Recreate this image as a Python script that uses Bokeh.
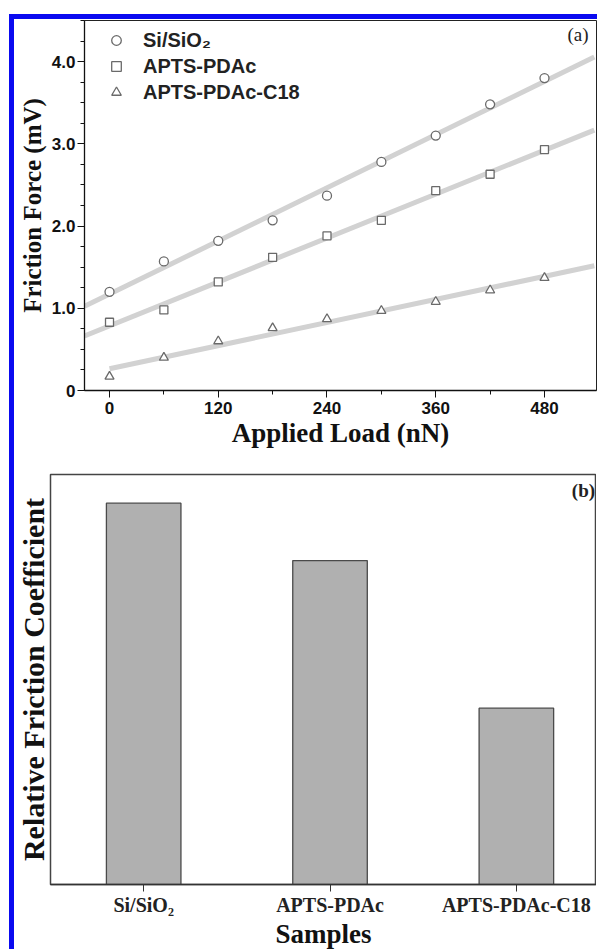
import numpy as np
from bokeh.plotting import figure
from bokeh.layouts import column, row
from bokeh.models import Range1d, FixedTicker, Legend, LegendItem, Label, Title
from bokeh.embed import file_html
from bokeh.resources import INLINE

# ---------------- data ----------------
load_nN = [0, 60, 120, 180, 240, 300, 360, 420, 480]
si_sio2 = [1.20, 1.57, 1.82, 2.07, 2.37, 2.78, 3.10, 3.48, 3.80]
apts_pdac = [0.83, 0.98, 1.32, 1.62, 1.88, 2.07, 2.43, 2.63, 2.93]
apts_pdac_c18 = [0.17, 0.40, 0.60, 0.76, 0.87, 0.97, 1.08, 1.22, 1.37]

samples = ["Si/SiO\u2082", "APTS-PDAc", "APTS-PDAc-C18"]
rel_coeff = [0.93, 0.79, 0.43]

x_ticks = [0, 120, 240, 360, 480]
x_minor = [0, 60, 120, 180, 240, 300, 360, 420, 480, 540]
y_ticks = [0, 1, 2, 3, 4]
y_labels = {0: "0", 1: "1.0", 2: "2.0", 3: "3.0", 4: "4.0"}

SERIF = "Liberation Serif"
SANS = "Liberation Sans"

# ---------------- panel (a) ----------------
XMIN, XMAX = -27.6, 537.4
p1 = figure(frame_width=512, frame_height=370,
            x_range=Range1d(XMIN, XMAX), y_range=Range1d(0, 4.5),
            output_backend="svg", toolbar_location=None,
            min_border_left=69, min_border_right=1, min_border_top=1, min_border_bottom=76)
p1.xgrid.visible = False
p1.ygrid.visible = False
p1.outline_line_color = "#222222"
p1.background_fill_color = "white"
p1.border_fill_color = "white"

# linear fits (computed from the data)
for vals, x0 in [(si_sio2, XMIN), (apts_pdac, XMIN), (apts_pdac_c18, 0)]:
    coef = np.polyfit(load_nN, vals, 1)
    xs = np.array([x0, 535.0])
    p1.line(xs, np.polyval(coef, xs), line_color="#d2d2d2", line_width=5)

r_si = p1.scatter(load_nN, si_sio2, marker="circle", size=9, fill_color="white",
                  line_color="#6a6a6a", line_width=1.3)
r_pd = p1.scatter(load_nN, apts_pdac, marker="square", size=8, fill_color="white",
                  line_color="#6a6a6a", line_width=1.3)
r_c18 = p1.scatter(load_nN, apts_pdac_c18, marker="triangle", size=9, fill_color="white",
                   line_color="#6a6a6a", line_width=1.3)

legend = Legend(items=[LegendItem(label=samples[0], renderers=[r_si]),
                       LegendItem(label=samples[1], renderers=[r_pd]),
                       LegendItem(label=samples[2], renderers=[r_c18])],
                location="top_left", margin=8, padding=12, spacing=2,
                glyph_width=48, glyph_height=24, label_height=24, label_standoff=3,
                background_fill_alpha=0, border_line_color=None,
                label_text_font=SANS, label_text_font_style="bold",
                label_text_font_size="20px", label_text_color="#222222")
p1.add_layout(legend)

p1.xaxis.ticker = FixedTicker(ticks=x_ticks, minor_ticks=x_minor)
p1.yaxis.ticker = FixedTicker(ticks=y_ticks, minor_ticks=[0.25 * k for k in range(19)])
p1.yaxis.major_label_overrides = y_labels
for ax in (p1.xaxis[0], p1.yaxis[0]):
    ax.axis_line_color = "#111111"
    ax.axis_line_width = 1.3
    ax.major_tick_line_color = "#111111"
    ax.minor_tick_line_color = "#111111"
    ax.major_tick_out = 7
    ax.major_tick_in = 0
    ax.minor_tick_out = 4
    ax.minor_tick_in = 0
    ax.major_label_text_font = SANS
    ax.major_label_text_font_style = "bold"
    ax.major_label_text_font_size = "17px"
    ax.major_label_text_color = "#111111"
p1.xaxis.axis_label = "Applied Load (nN)"
p1.xaxis.axis_label_text_font = SERIF
p1.xaxis.axis_label_text_font_style = "bold"
p1.xaxis.axis_label_text_color = "#111111"
p1.xaxis.axis_label_text_font_size = "27px"
p1.xaxis.major_label_standoff = 4
p1.xaxis.axis_label_standoff = 1
p1.yaxis.major_label_standoff = 2

p1.add_layout(Title(text="Friction Force (mV)", align="center",
                    text_font=SERIF, text_font_style="bold", text_font_size="25px",
                    text_color="#111111", standoff=5, offset=0), "left")

p1.add_layout(Label(x=517, y=4.33, text="(a)", text_font=SERIF, text_font_size="19px",
                    text_align="center", text_baseline="middle", text_color="#222222"))

# ---------------- panel (b) ----------------
bar_x = [i + 0.5 for i in range(len(samples))]
p2 = figure(frame_width=546, frame_height=410,
            x_range=Range1d(0, 2.93), y_range=Range1d(0, 1),
            y_axis_location=None,
            output_backend="svg", toolbar_location=None,
            min_border_left=36, min_border_right=0, min_border_top=8, min_border_bottom=65)
p2.xgrid.visible = False
p2.ygrid.visible = False
p2.outline_line_color = "#444444"
p2.outline_line_width = 1.5
p2.vbar(x=bar_x, top=rel_coeff, bottom=0, width=0.4,
        fill_color="#b0b0b0", line_color="#4a4a4a", line_width=1.3)

p2.add_layout(Title(text="Relative Friction Coefficient", align="center",
                    text_font=SERIF, text_font_style="bold", text_font_size="30px",
                    text_color="#111111", standoff=1, offset=0), "left")

p2.xaxis.ticker = FixedTicker(ticks=bar_x, minor_ticks=[])
p2.xaxis.major_label_overrides = {x: s for x, s in zip(bar_x, samples)}
ax = p2.xaxis[0]
ax.axis_line_color = "#333333"
ax.axis_line_width = 1.5
ax.major_tick_line_color = "#333333"
ax.major_tick_in = 0
ax.major_tick_out = 7
ax.minor_tick_line_color = None
ax.major_label_text_font = SERIF
ax.major_label_text_font_style = "bold"
ax.major_label_text_font_size = "20px"
ax.major_label_text_color = "#222222"
ax.major_label_standoff = 2
ax.axis_label = "Samples"
ax.axis_label_text_font = SERIF
ax.axis_label_text_font_style = "bold"
ax.axis_label_text_font_size = "27px"
ax.axis_label_text_color = "#111111"
ax.axis_label_standoff = 0

p2.add_layout(Label(x=2.86, y=0.96, text="(b)", text_font=SERIF, text_font_size="19px",
                    text_font_style="bold", text_align="center", text_baseline="middle",
                    text_color="#222222"))

layout = column(row(p1), row(p2), spacing=0,
                styles={"border-left": "5px solid #0a0af0", "border-top": "5px solid #0a0af0",
                        "margin-top": "14px", "margin-left": "9px"})

open("out.html", "w").write(file_html(layout, INLINE))
